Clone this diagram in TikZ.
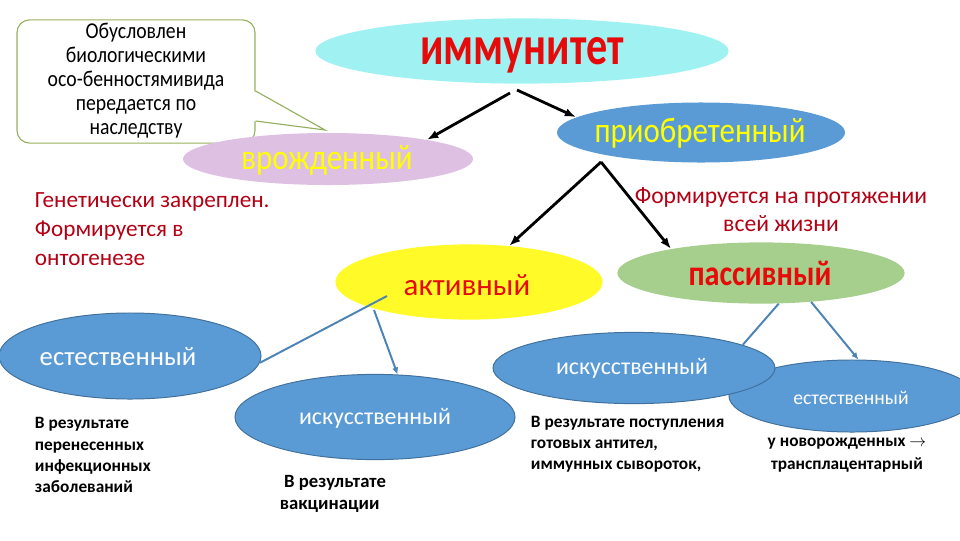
\documentclass[tikz,border=0pt]{standalone}
\usepackage{fontspec}
\setmainfont{Carlito}
\usetikzlibrary{shapes.geometric,arrows.meta}
\definecolor{skyfill}{RGB}{160,242,242}
\definecolor{pinkfill}{RGB}{222,192,226}
\definecolor{ovalblue}{RGB}{91,155,213}
\definecolor{ovalline}{RGB}{65,113,156}
\definecolor{sunfill}{RGB}{255,250,40}
\definecolor{leaffill}{RGB}{166,206,140}
\definecolor{titlered}{RGB}{230,10,10}
\definecolor{darkred}{RGB}{180,0,20}
\definecolor{noteline}{RGB}{150,175,95}
\definecolor{yellowtext}{RGB}{255,255,0}
\newcommand{\tallText}[2]{\scalebox{1}[#1]{#2}}

\begin{document}
\begin{tikzpicture}[x=0.025cm,y=-0.025cm,
    oval/.style={ellipse,inner sep=0pt},
    blueoval/.style={oval,fill=ovalblue,draw=ovalline,line width=0.7pt},
    thickarrow/.style={-{Latex[length=8pt,width=6pt]},line width=2pt},
    thinline/.style={ovalblue!85!black,line width=1.4pt},
    thinarrow/.style={thinline,-{Latex[length=5pt,width=4.5pt]}},
    bigname/.style={font=\fontsize{22}{26}\selectfont},
    smallname/.style={font=\fontsize{17}{20}\selectfont,text=white},
    plaintext/.style={align=left,font=\bfseries\fontsize{12.3}{15}\selectfont}]
  \useasboundingbox (0,0) rectangle (960,540);

  % callout
  \node[draw=noteline,line width=0.8pt,rounded corners=9pt,minimum width=5.95cm,minimum height=3.08cm] (note) at (136,81.5) {};
  \coordinate (tip) at (325,130);
  \fill[white] (253.5,91) -- (tip) -- (253.5,121) -- cycle;
  \draw[noteline,line width=0.8pt] (note.east |- 0,91) -- (tip) -- (note.east |- 0,121);
  \node[font=\fontsize{14}{14.8}\selectfont,inner sep=0pt] (note-t) at (136,82) {\tallText{1.15}{\begin{tabular}{@{}c@{}}Обусловлен\\биологическими\\осо-бенностямивида\\передается по\\наследству\end{tabular}}};

  % upper level
  \node[oval,fill=skyfill,minimum width=10.33cm,minimum height=1.63cm] (imm) at (522,51) {};
  \node[font=\bfseries\fontsize{30}{36}\selectfont,text=titlered] (imm-t) at (522,55) {\tallText{1.3}{иммунитет}};
  \node[blueoval,draw=none,minimum width=7.2cm,minimum height=1.5cm] (pri) at (701,132.5) {};
  \node[bigname,text=yellowtext] (pri-t) at (700,133) {\tallText{1.15}{приобретенный}};
  \node[oval,fill=pinkfill,minimum width=7.25cm,minimum height=1.3cm] (vro) at (328,159) {};
  \node[bigname,text=yellowtext] (vro-t) at (327,160) {\tallText{1.15}{врожденный}};

  \coordinate (imm-l) at (510,93);
  \coordinate (imm-r) at (517,90);
  \coordinate (fork) at (601,162);
  \draw[thickarrow] (imm-l) -- (vro.11);
  \draw[thickarrow] (imm-r) -- (pri.173);

  % notes
  \node[anchor=west,align=left,font=\fontsize{16.5}{20.6}\selectfont,text=darkred] (gen-t) at (30,229) {Генетически закреплен.\\Формируется в\\онтогенезе};
  \node[align=center,font=\fontsize{16.8}{20}\selectfont,text=darkred] (life-t) at (781,210) {Формируется на протяжении\\всей жизни};

  % active / passive
  \node[oval,fill=sunfill,minimum width=6.68cm,minimum height=1.88cm] (act) at (469,282) {};
  \node[bigname,text=titlered] (act-t) at (467,285) {активный};
  \node[oval,fill=leaffill,minimum width=7.18cm,minimum height=1.53cm] (pas) at (761,273) {};
  \node[text=titlered,font=\bfseries\fontsize{21.5}{26}\selectfont] (pas-t) at (760,273) {\tallText{1.18}{пассивный}};
  \draw[thickarrow] (fork) -- (act.42);
  \draw[thickarrow] (fork) -- (pas.165);

  % lower level
  \node[blueoval,minimum width=6.55cm,minimum height=2.15cm] (est1) at (130,356) {};
  \node[smallname,font=\fontsize{19}{22}\selectfont] (est1-t) at (118,357) {естественный};
  \node[blueoval,minimum width=7cm,minimum height=2.13cm] (isk1) at (375,417) {};
  \node[smallname] (isk1-t) at (375,418) {искусственный};
  \node[blueoval,minimum width=6.15cm,minimum height=1.8cm] (est2) at (852,396) {};
  \node[smallname,font=\fontsize{14}{17}\selectfont] (est2-t) at (851,398) {естественный};
  \node[blueoval,minimum width=7.05cm,minimum height=1.78cm] (isk2) at (634,368) {};
  \node[smallname] (isk2-t) at (632,368) {искусственный};

  \coordinate (act-a) at (387,296);
  \coordinate (act-b) at (374,310);
  \draw[thinline] (act-a) -- (est1.-3);
  \draw[thinarrow] (act-b) -- (isk1.62);
  \draw[thinline] (pas.-60) -- (isk2.12);
  \draw[thinarrow] (pas.-30) -- (est2.80);

  % explanations
  \node[anchor=west,plaintext] (inf-t) at (30,455) {В результате\\перенесенных\\инфекционных\\заболеваний};
  \node[anchor=west,plaintext,font=\bfseries\fontsize{13.3}{15.6}\selectfont] (vac-t) at (275,494) {\ В результате\\вакцинации};
  \node[anchor=west,plaintext] (ser-t) at (526,444) {В результате поступления\\готовых антител,\\иммунных сывороток,};
  \node[align=center,font=\bfseries\fontsize{12.3}{16}\selectfont] (new-t) at (847,455) {у новорожденных \(\rightarrow\)\\трансплацентарный};
\end{tikzpicture}
\end{document}
